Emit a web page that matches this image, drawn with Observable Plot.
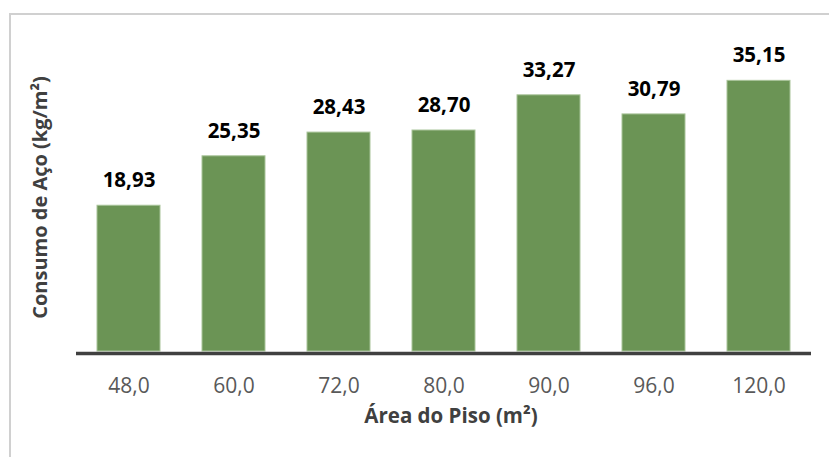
<!DOCTYPE html>
<html>
<head>
<meta charset="utf-8">
<script src="https://cdn.jsdelivr.net/npm/d3@7"></script>
<script src="https://cdn.jsdelivr.net/npm/@observablehq/plot@0.6"></script>
<style>
  html, body { margin: 0; padding: 0; background: #fff; overflow: hidden; }
  #wrap { position: relative; width: 829px; height: 457px; overflow: hidden; }
  #border { position: absolute; left: 9px; top: 13px; width: 900px; height: 600px; border-top: 2px solid #d0d0d0; border-left: 2px solid #d0d0d0; box-sizing: border-box; }
  #chart { position: absolute; left: 0; top: 0; }
</style>
</head>
<body>
<div id="wrap"><div id="border"></div><div id="chart"></div></div>
<script>
const areas = ["48,0", "60,0", "72,0", "80,0", "90,0", "96,0", "120,0"];
const consumo = [18.93, 25.35, 28.43, 28.70, 33.27, 30.79, 35.15];
const xTitle = "Área do Piso (m²)";
const yTitle = "Consumo de Aço (kg/m²)";

const data = areas.map((a, i) => ({area: a, valor: consumo[i]}));
const fmt = v => v.toFixed(2).replace(".", ",");
const font = "'Open Sans', sans-serif";

const chart = Plot.plot({
  width: 829,
  height: 457,
  marginLeft: 76,
  marginRight: 18,
  marginTop: 43,
  marginBottom: 106,
  style: {fontFamily: font, background: "transparent", overflow: "visible"},
  x: {domain: areas, paddingInner: 0.4, paddingOuter: 0.2, label: null},
  y: {domain: [0, 40], axis: null},
  marks: [
    Plot.barY(data, {x: "area", y: "valor", fill: "#6b9455", stroke: "#a9c49a", strokeWidth: 1}),
    Plot.ruleY([0], {stroke: "#404040", strokeWidth: 3.5, dy: 2}),
    Plot.axisX({tickSize: 0, tickPadding: 27, fontSize: 21, fill: "#595959", label: null}),
    Plot.text(data, {x: "area", y: "valor", text: d => fmt(d.valor), dy: -25, fontSize: 20.5, fontWeight: "bold", fill: "#000"}),
    Plot.text([xTitle], {frameAnchor: "bottom", text: d => d, dy: 71, dx: 7, fontSize: 20.5, fontWeight: "bold", fill: "#404040"}),
    Plot.text([yTitle], {frameAnchor: "left", textAnchor: "middle", text: d => d, dx: -36, rotate: -90, fontSize: 20, fontWeight: "bold", fill: "#404040"})
  ]
});
document.getElementById("chart").appendChild(chart);
</script>
</body>
</html>
